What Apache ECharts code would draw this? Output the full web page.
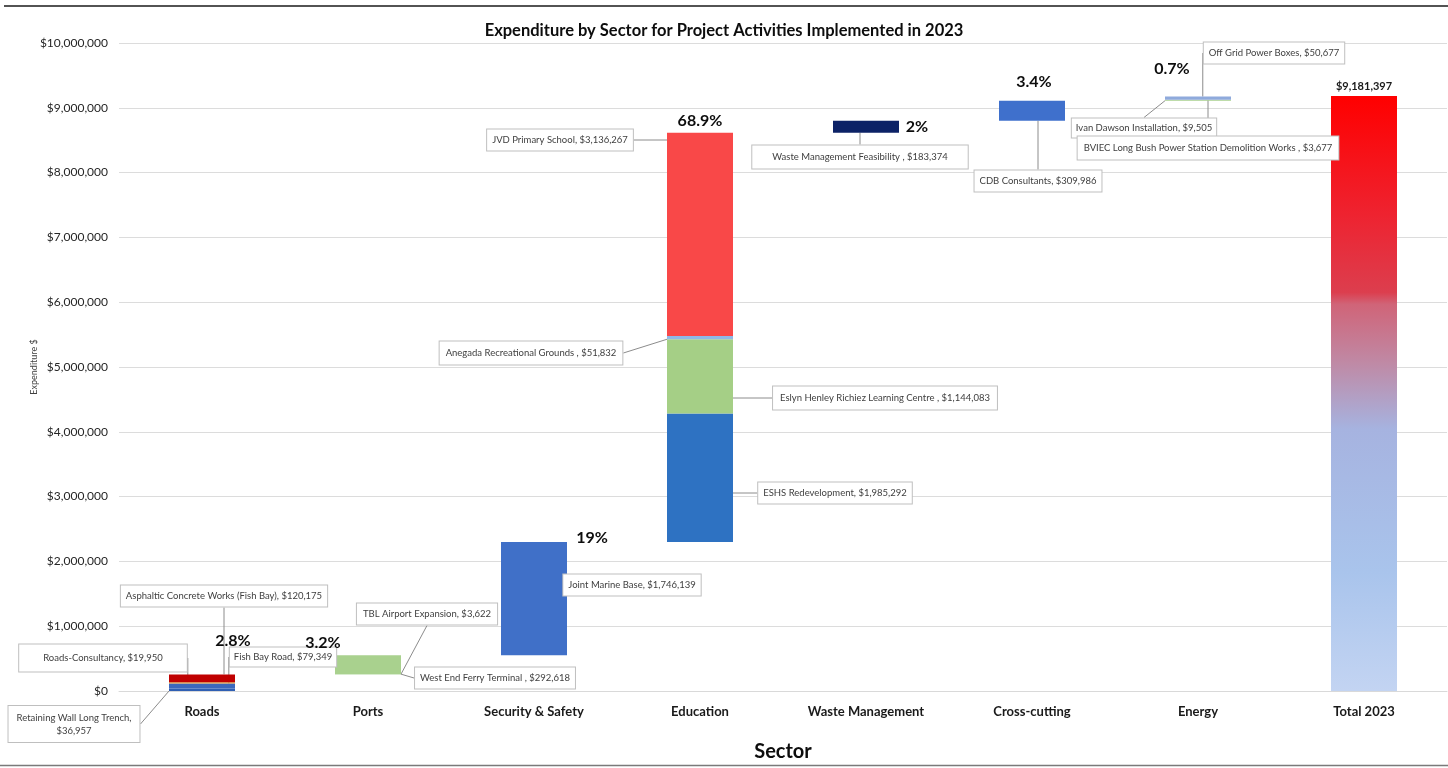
<!DOCTYPE html>
<html>
<head>
<meta charset="utf-8">
<title>Expenditure by Sector for Project Activities Implemented in 2023</title>
<script src="https://cdn.jsdelivr.net/npm/echarts@6/dist/echarts.min.js"></script>
<style>
  html, body { margin: 0; padding: 0; background: #ffffff; }
  #chart { width: 1448px; height: 768px; }
</style>
</head>
<body>
<div id="chart"></div>
<script>
// Sectors along the x axis (last one is the running total)
const sectors = ['Roads', 'Ports', 'Security & Safety', 'Education', 'Waste Management', 'Cross-cutting', 'Energy', 'Total 2023'];

// Project activities: name, sector index, expenditure (stacked bottom to top within a sector)
const projectNames = [
  'Retaining Wall Long Trench,\n', 'Fish Bay Road', 'Roads-Consultancy', 'Asphaltic Concrete Works (Fish Bay)',
  'TBL Airport Expansion', 'West End Ferry Terminal ',
  'Joint Marine Base',
  'ESHS Redevelopment', 'Eslyn Henley Richiez Learning Centre ', 'Anegada Recreational Grounds ', 'JVD Primary School',
  'Waste Management Feasibility ',
  'CDB Consultants',
  'Ivan Dawson Installation', 'BVIEC Long Bush Power Station Demolition Works ', 'Off Grid Power Boxes'
];
const projectSector = [0, 0, 0, 0, 1, 1, 2, 3, 3, 3, 3, 4, 5, 6, 6, 6];
const projectValues = [
  36957, 79349, 19950, 120175,
  3622, 292618,
  1746139,
  1985292, 1144083, 51832, 3136267,
  183374,
  309986,
  9505, 3677, 50677
];
const projectColors = [
  '#2f5fb3', '#3b68bd', '#e0a03c', '#c00000',
  '#a9d18e', '#a9d18e',
  '#4070c8',
  '#2e72c2', '#a5cf86', '#8fb8e8', '#f94848',
  '#0c2266',
  '#3f70cc',
  '#a9d18e', '#b7c9a0', '#8faadc'
];

// Overall total and the share labels printed above each sector
const totalValue = 9181397;
const shareLabels = ['2.8%', '3.2%', '19%', '68.9%', '2%', '3.4%', '0.7%'];

// Y axis ticks
const yMin = 0, yMax = 10000000, yStep = 1000000;

// Callout placement (label centre in pixels) and box padding for each project
const calloutPos = [
  [74, 724], [283, 657], [103, 658], [224, 596],
  [427, 614], [495, 678],
  [632, 585],
  [835, 493], [885, 398], [531, 353], [560, 140],
  [860, 157],
  [1038, 181],
  [1144, 128], [1208, 148], [1274, 53]
];
const calloutPad = [
  [5, 8], [3, 4], [7, 24], [4, 5],
  [4, 6], [4, 5],
  [4, 5],
  [4, 5], [5, 7], [5, 6], [4, 5],
  [5, 20],
  [4, 5],
  [3, 4], [5, 6], [4, 5]
];
// Offsets of the share labels relative to the top of each sector's bar
const shareOffset = [[31, -18], [-45, 4], [58, 12], [0, 4], [51, 22], [2, -3], [-26, -12]];

const money = v => '$' + String(Math.round(v)).replace(/\B(?=(\d{3})+(?!\d))/g, ',');

// Invisible base for each floating sector: cumulative sum of earlier sectors
const sectorSums = sectors.slice(0, 7).map((_, s) =>
  projectValues.reduce((acc, v, i) => acc + (projectSector[i] === s ? v : 0), 0));
const baseValues = [];
let running = 0;
sectorSums.forEach(s => { baseValues.push(running); running += s; });
baseValues.push(0);
const sectorTops = sectorSums.map((s, i) => baseValues[i] + s);

const FONT = 'Lato, "Open Sans", sans-serif';

const series = [{
  name: 'base',
  type: 'bar',
  stack: 'w',
  barWidth: 66,
  silent: true,
  itemStyle: { color: 'transparent' },
  data: baseValues
}];

projectNames.forEach((name, i) => {
  const data = sectors.map((_, s) => (s === projectSector[i] ? projectValues[i] : null));
  const text = name.endsWith('\n') ? name + money(projectValues[i]) : name + ', ' + money(projectValues[i]);
  series.push({
    name: name.trim(),
    type: 'bar',
    stack: 'w',
    barWidth: 66,
    itemStyle: { color: projectColors[i] },
    data: data,
    label: {
      show: true,
      formatter: () => text,
      fontFamily: FONT,
      fontSize: 9.5,
      color: '#404040',
      backgroundColor: '#ffffff',
      borderColor: '#bfbfbf',
      borderWidth: 1,
      padding: calloutPad[i],
      lineHeight: 13,
      align: 'center'
    },
    labelLine: {
      show: true,
      lineStyle: { color: '#8c8c8c', width: 1 }
    },
    labelLayout: () => ({
      x: calloutPos[i][0],
      y: calloutPos[i][1],
      align: 'center',
      verticalAlign: 'middle'
    })
  });
});

// Total column with a red-to-light-blue fill
series.push({
  name: 'Total 2023',
  type: 'bar',
  stack: 'w',
  barWidth: 64,
  itemStyle: {
    color: new echarts.graphic.LinearGradient(0, 0, 0, 1, [
      { offset: 0, color: '#ff0000' },
      { offset: 0.2, color: '#ee2330' },
      { offset: 0.33, color: '#dc3e4e' },
      { offset: 0.35, color: '#d06478' },
      { offset: 0.45, color: '#bf8aa6' },
      { offset: 0.56, color: '#a6b3e0' },
      { offset: 0.8, color: '#a9c4ec' },
      { offset: 1, color: '#c3d4f2' }
    ])
  },
  data: sectors.map((_, s) => (s === 7 ? totalValue : null)),
  label: {
    show: true,
    position: 'top',
    distance: 4,
    formatter: p => money(p.value),
    fontFamily: FONT,
    fontSize: 11,
    fontWeight: 'bold',
    color: '#1a1a1a'
  }
});

// Share-of-total labels above each sector
series.push({
  name: 'share',
  type: 'scatter',
  symbolSize: 0,
  silent: true,
  itemStyle: { opacity: 1 },
  data: sectorTops.map((v, i) => ({
    value: v,
    label: {
      show: true,
      position: 'top',
      distance: 8,
      offset: shareOffset[i],
      formatter: shareLabels[i],
      fontFamily: FONT,
      fontSize: 16,
      fontWeight: 'bold',
      color: '#0d0d0d'
    }
  })).concat([null])
});

const chart = echarts.init(document.getElementById('chart'), null, { renderer: 'canvas' });
chart.setOption({
  animation: false,
  backgroundColor: '#ffffff',
  title: {
    text: 'Expenditure by Sector for Project Activities Implemented in 2023',
    left: 'center',
    top: 22,
    padding: 0,
    textStyle: { fontFamily: FONT, fontSize: 16.5, fontWeight: 'bold', color: '#0d0d0d' }
  },
  grid: { left: 119, right: 1, top: 43, bottom: 77, containLabel: false },
  xAxis: {
    type: 'category',
    data: sectors,
    name: 'Sector',
    nameLocation: 'middle',
    nameGap: 51,
    nameTextStyle: { fontFamily: FONT, fontSize: 20, fontWeight: 'bold', color: '#0d0d0d' },
    axisLine: { show: true, lineStyle: { color: '#d9d9d9', width: 1 } },
    axisTick: { show: false },
    axisLabel: { fontFamily: FONT, fontSize: 13, fontWeight: 'bold', color: '#1a1a1a', margin: 14, interval: 0 }
  },
  yAxis: {
    type: 'value',
    min: yMin,
    max: yMax,
    interval: yStep,
    name: 'Expenditure $',
    nameLocation: 'middle',
    nameRotate: 90,
    nameGap: 80,
    nameMoveOverlap: false,
    nameTextStyle: { fontFamily: FONT, fontSize: 9, color: '#404040' },
    axisLine: { show: false },
    axisTick: { show: false },
    splitLine: { lineStyle: { color: '#dcdcdc', width: 1 } },
    axisLabel: { fontFamily: FONT, fontSize: 12, color: '#262626', margin: 11, formatter: v => money(v) }
  },
  graphic: [
    { type: 'line', shape: { x1: 4, y1: 6, x2: 1448, y2: 6 }, style: { stroke: '#1a1a1a', lineWidth: 1.5 }, silent: true },
    { type: 'line', shape: { x1: 0, y1: 765.5, x2: 1448, y2: 765.5 }, style: { stroke: '#7a7a7a', lineWidth: 1.5 }, silent: true }
  ],
  series: series
});
</script>
</body>
</html>
